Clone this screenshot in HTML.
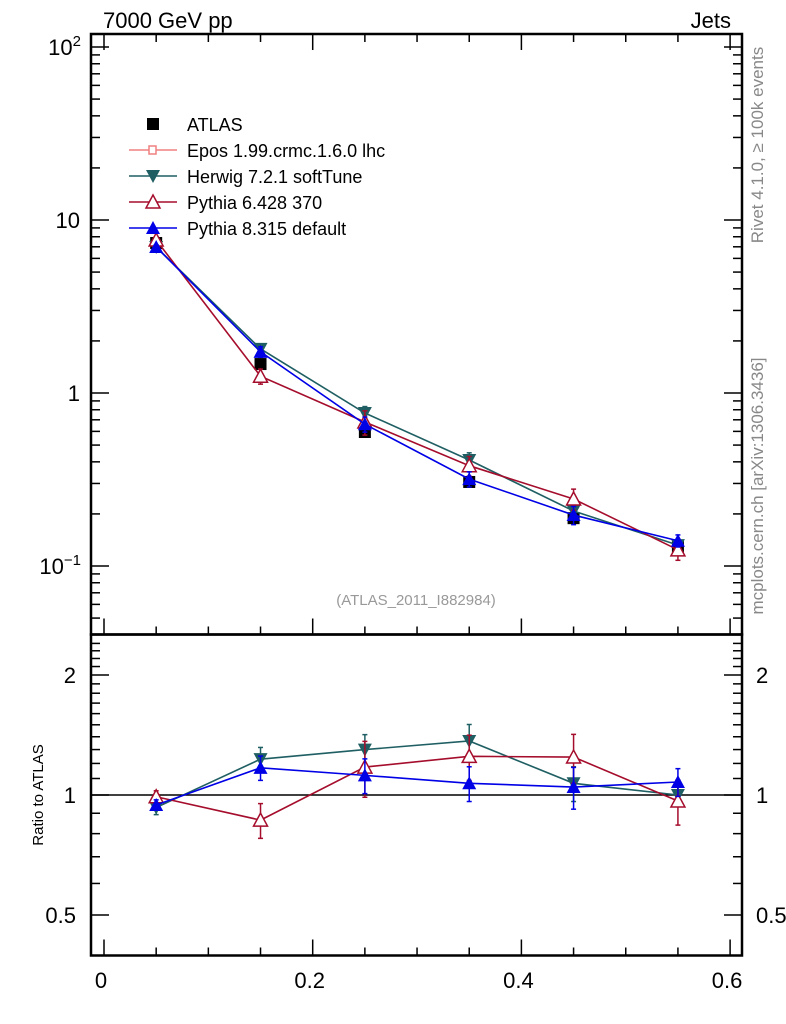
<!DOCTYPE html>
<html><head><meta charset="utf-8"><style>
body{margin:0;background:#fff}
svg{display:block;font-family:"Liberation Sans",sans-serif}
</style></head><body>
<svg id="c" width="786" height="1024" viewBox="0 0 786 1024"></svg>
<script>
const xs=[0.05,0.15,0.25,0.35,0.45,0.55];
const atlas=[7.36,1.47,0.595,0.306,0.189,0.129];
const atlasErr=[0.03,0.03,0.03,0.04,0.04,0.05];
const herwig=[6.98,1.8,0.766,0.41,0.208,0.132];
const pythia6=[7.66,1.25,0.68,0.38,0.244,0.124];
const pythia8=[6.98,1.73,0.66,0.318,0.197,0.14];
const herwigRatio=[0.93,1.23,1.30,1.366,1.07,1.0];
const pythia6Ratio=[0.99,0.865,1.175,1.25,1.245,0.966];
const pythia8Ratio=[0.944,1.17,1.12,1.07,1.047,1.078];
const herwigErr=[0.04,0.07,0.09,0.1,0.1,0.05];
const pythia6Err=[0.035,0.1,0.16,0.13,0.14,0.13];
const pythia8Err=[0.03,0.07,0.1,0.1,0.12,0.08];
const xTicks=[0,0.2,0.4,0.6];
const yTicks=[0.1,1,10,100];
const rTicks=[0.5,1,2];

const svg=document.getElementById('c');
const NS='http://www.w3.org/2000/svg';
const L=91,R=742,T=34,M=634.5,B=955.5;
const X=v=>104+v*1043.5;
const Y=v=>393-173*Math.log10(v);
const YR=v=>795-398.7*Math.log10(v);
function el(t,a,p){const e=document.createElementNS(NS,t);for(const k in a)e.setAttribute(k,a[k]);(p||svg).appendChild(e);return e;}
function line(x1,y1,x2,y2,c,w,p){return el('line',{x1,y1,x2,y2,stroke:c,'stroke-width':w||1},p);}
function text(x,y,s,sz,anc,fill,p){const t=el('text',{x,y,'font-size':sz,'text-anchor':anc||'start',fill:fill||'#000'},p);t.textContent=s;return t;}

const f1=el('rect',{x:L,y:T,width:R-L,height:M-T,fill:'none',stroke:'#000','stroke-width':2.5});


const f2=el('rect',{x:L,y:M,width:R-L,height:B-M,fill:'none',stroke:'#000','stroke-width':2.5});



const gx=el('g',{});


for(let i=0;i<=12;i++){const v=i*0.05,x=X(v),big=(i%4===0),len=big?16:8;
 line(x,T,x,T+len,'#000',1.5,gx);line(x,M,x,M-len,'#000',1.5,gx);line(x,B,x,B-len,'#000',1.5,gx);}
xTicks.forEach(v=>{const t=text(X(v)-3,988,String(v),22,'middle','#000',gx);
 
 });

const gy=el('g',{});


for(let e=-2;e<=2;e++)for(let m=1;m<=9;m++){const v=m*Math.pow(10,e),y=Y(v);if(y<T||y>M)continue;
 const len=m===1?18:9;line(L,y,L+len,y,'#000',1.5,gy);line(R,y,R-len,y,'#000',1.5,gy);}
const ylab=[['10','−1',Y(0.1)],['1','',Y(1)],['10','',Y(10)],['10','2',Y(100)]];
ylab.forEach(([b,s,y])=>{const t=el('text',{x:s?81:80,y:y+8,'font-size':22,'text-anchor':'end'},gy);
 t.textContent=b;
 if(s){const ts=el('tspan',{dy:-9,'font-size':15},t);ts.textContent=s;}
 
 });

const gr=el('g',{});


[0.5,0.6,0.7,0.8,0.9,1,1.1,1.2,1.3,1.4,1.5,1.6,1.7,1.8,1.9,2].forEach(v=>{const y=YR(v);const big=rTicks.includes(v);const len=big?18:9;
 line(L,y,L+len,y,'#000',1.5,gr);line(R,y,R-len,y,'#000',1.5,gr);});
for(let v=2.1;v<=2.45;v+=0.1){const y=YR(v);if(y>M){line(L,y,L+9,y,'#000',1.5,gr);line(R,y,R-9,y,'#000',1.5,gr);}}
rTicks.forEach(v=>{const y=YR(v)+8;const s=String(v);
 const a=text(76,y,s,22,'end','#000',gr);
 const b=text(756,y,s,22,'start','#000',gr);});
const rl=line(L,YR(1),R,YR(1),'#000',1.5);



function marker(type,x,y,c,p){
 if(type==='sq')return el('rect',{x:x-6,y:y-6,width:12,height:12,fill:c},p);
 if(type==='down')return el('polygon',{points:`${x-7},${y-6} ${x+7},${y-6} ${x},${y+7}`,fill:c},p);
 if(type==='up')return el('polygon',{points:`${x-7},${y+6} ${x+7},${y+6} ${x},${y-7}`,fill:c},p);
 if(type==='upo')return el('polygon',{points:`${x-7},${y+6} ${x+7},${y+6} ${x},${y-7}`,fill:'#fff',stroke:c,'stroke-width':1.5},p);
}
function series(name,vals,errs,fy,c,type,connect){
 const g=el('g',{});
 
 
 if(connect)el('polyline',{points:xs.map((x,i)=>X(x)+','+fy(vals[i])).join(' '),fill:'none',stroke:c,'stroke-width':1.6},g);
 xs.forEach((x,i)=>{const px=X(x),y1=fy(vals[i]*(1+errs[i])),y2=fy(vals[i]*(1-errs[i]));
  line(px,y1,px,y2,c,1.5,g);line(px-2.5,y1,px+2.5,y1,c,1.5,g);line(px-2.5,y2,px+2.5,y2,c,1.5,g);
  const m=marker(type,px,fy(vals[i]),c,g);
  
  });
}
series('atlas-data',atlas,atlasErr,Y,'#000','sq',false);
series('herwig-line',herwig,herwigErr,Y,'#1f5f63','down',true);
series('pythia6-line',pythia6,pythia6Err,Y,'#a50d2c','upo',true);
series('pythia8-line',pythia8,pythia8Err,Y,'#0000e6','up',true);
series('herwig-ratio',herwigRatio,herwigErr,YR,'#1f5f63','down',true);
series('pythia6-ratio',pythia6Ratio,pythia6Err,YR,'#a50d2c','upo',true);
series('pythia8-ratio',pythia8Ratio,pythia8Err,YR,'#0000e6','up',true);

const lg=el('g',{});


const leg=[['ATLAS','#000','sq',false],['Epos 1.99.crmc.1.6.0 lhc','#f08080','epos',true],['Herwig 7.2.1 softTune','#1f5f63','down',true],['Pythia 6.428 370','#a50d2c','upo',true],['Pythia 8.315 default','#0000e6','up',true]];
leg.forEach((l,i)=>{const y=124+i*26;const g=el('g',{},lg);
 
 
 if(l[3])line(129,y,177,y,l[1],1.5,g);
 if(l[2]==='epos'){el('rect',{x:149,y:y-4,width:7,height:8,fill:'#fff',stroke:l[1],'stroke-width':1.5},g);}
 else marker(l[2],153,y,l[1],g);
 text(187,y+7,l[0],18,'start','#000',g);});

const t1=text(103,28,'7000 GeV pp',22);
const t2=text(731,28,'Jets',22,'end');
const t3=text(416,605,'(ATLAS_2011_I882984)',15,'middle','#999');
const t4=el('text',{x:0,y:0,'font-size':15,'text-anchor':'middle',transform:'translate(43,795) rotate(-90)'});t4.textContent='Ratio to ATLAS';

const t5=el('text',{x:0,y:0,'font-size':17,fill:'#888','text-anchor':'middle',transform:'translate(763,145) rotate(-90)'});t5.textContent='Rivet 4.1.0, ≥ 100k events';

const t6=el('text',{x:0,y:0,'font-size':17,fill:'#888','text-anchor':'middle',transform:'translate(763,486) rotate(-90)'});t6.textContent='mcplots.cern.ch [arXiv:1306.3436]';

</script>
</body></html>
